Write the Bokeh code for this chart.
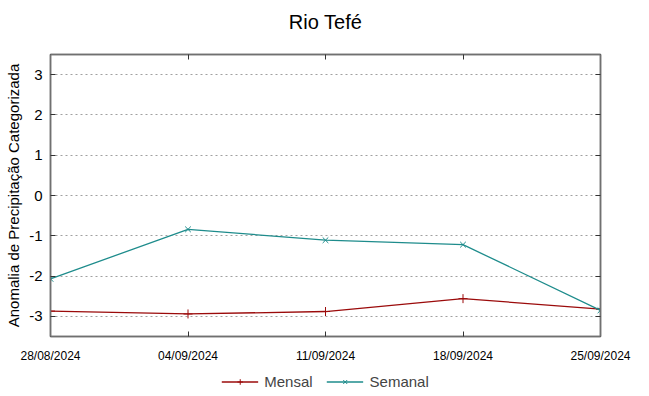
import pandas as pd
from bokeh.plotting import figure
from bokeh.layouts import column
from bokeh.models import (Range1d, FixedTicker, LinearAxis, DatetimeAxis, Legend, LegendItem,
                          DatetimeTickFormatter)
from bokeh.embed import file_html
from bokeh.resources import INLINE

dates = ["28/08/2024", "04/09/2024", "11/09/2024", "18/09/2024", "25/09/2024"]
mensal = [-2.87, -2.94, -2.88, -2.56, -2.82]
semanal = [-2.07, -0.84, -1.11, -1.22, -2.85]
yticks = [-3, -2, -1, 0, 1, 2, 3]
title_text = "Rio Tefé"
series_names = ["Mensal", "Semanal"]

x = pd.to_datetime(dates, format="%d/%m/%Y")
xms = [d.timestamp() * 1000 for d in x]

FONT = "Liberation Sans"
BORDER = "#707070"
RED = "#9b0b0b"
TEAL = "#1e8c8c"
W = 649

# ---- title strip ----
f0 = figure(width=W, height=34, output_backend="svg", toolbar_location=None,
            x_axis_location=None, y_axis_location=None, min_border=0, min_border_top=32,
            x_range=Range1d(0, 1), y_range=Range1d(0, 1))
f0.outline_line_color = None
f0.grid.visible = False
f0.title.text = title_text
f0.title.align = "center"
f0.title.text_font = FONT
f0.title.text_font_size = "20px"
f0.title.text_font_style = "normal"
f0.title.text_color = "#000000"
f0.title.standoff = 0

# ---- main plot ----
p = figure(frame_width=550, frame_height=282, output_backend="svg", toolbar_location=None,
           x_axis_type="datetime", min_border_left=50, min_border_right=49,
           min_border_top=20, min_border_bottom=0)
p.x_range = Range1d(xms[0], xms[-1])
p.y_range = Range1d(-3.5, 3.5)
p.outline_line_color = BORDER
p.outline_line_width = 1.5

xa = p.xaxis[0]
xa.ticker = FixedTicker(ticks=xms)
xa.formatter = DatetimeTickFormatter(days="%d/%m/%Y", months="%d/%m/%Y", years="%d/%m/%Y")
ya = p.yaxis[0]
ya.ticker = FixedTicker(ticks=yticks)
ya.major_label_overrides = {t: str(t) for t in yticks}
ya.axis_label = "Anomalia de Precipitação Categorizada"

for ax in (xa, ya):
    ax.axis_line_color = BORDER
    ax.axis_line_width = 1.5
    ax.major_tick_in = 5
    ax.major_tick_out = 0
    ax.minor_tick_line_color = None
    ax.major_tick_line_color = "#333333"
    ax.major_label_text_font = FONT
    ax.major_label_text_color = "#000000"
    ax.axis_label_text_font = FONT
    ax.axis_label_text_font_style = "normal"
    ax.axis_label_text_font_size = "15px"
    ax.axis_label_text_color = "#000000"
xa.major_label_text_font_size = "12px"
xa.major_label_standoff = 12
ya.major_label_text_font_size = "15px"
ya.major_label_standoff = 8
ya.axis_label_standoff = 4

ra = LinearAxis(ticker=FixedTicker(ticks=yticks), major_label_overrides={t: "" for t in yticks})
ta = DatetimeAxis(ticker=FixedTicker(ticks=xms), major_label_overrides={t: "" for t in xms})
for ax in (ra, ta):
    ax.axis_line_color = BORDER
    ax.axis_line_width = 1.5
    ax.major_tick_in = 5
    ax.major_tick_out = 0
    ax.minor_tick_line_color = None
    ax.major_tick_line_color = "#333333"
    ax.major_label_standoff = 0
p.add_layout(ra, "right")
p.add_layout(ta, "above")

p.xgrid.visible = False
p.ygrid.ticker = FixedTicker(ticks=yticks)
p.ygrid.grid_line_color = "#a0a0a0"
p.ygrid.grid_line_dash = "2 3"
p.ygrid.grid_line_width = 1

p.line(xms, mensal, line_color=RED, line_width=1.3)
p.scatter(xms, mensal, marker="cross", size=9, line_color=RED, line_width=1)
p.line(xms, semanal, line_color=TEAL, line_width=1.3)
p.scatter(xms, semanal, marker="x", size=8, line_color=TEAL, line_width=1)

# ---- legend strip (legend-only renderers sit outside the visible range) ----
f2 = figure(width=W, height=32, output_backend="svg", toolbar_location=None,
            x_axis_location=None, y_axis_location=None, min_border=0,
            x_range=Range1d(0, 1), y_range=Range1d(0, 1))
f2.outline_line_color = None
f2.grid.visible = False
off = [-10, -11]
g1 = f2.line(x=off, y=off, line_color=RED, line_width=1.3)
s1 = f2.scatter(x=off, y=off, marker="cross", size=9, line_color=RED, line_width=1)
g2 = f2.line(x=off, y=off, line_color=TEAL, line_width=1.3)
s2 = f2.scatter(x=off, y=off, marker="x", size=8, line_color=TEAL, line_width=1)
legend = Legend(items=[LegendItem(label=series_names[0], renderers=[g1, s1]),
                       LegendItem(label=series_names[1], renderers=[g2, s2])],
                orientation="horizontal", location="center",
                glyph_width=37, glyph_height=14, label_height=14,
                label_text_font=FONT, label_text_font_size="15px",
                border_line_color=None, background_fill_alpha=0,
                spacing=14, label_standoff=6, padding=0, margin=0)
f2.add_layout(legend, "center")

layout = column(f0, p, f2, spacing=0)
open("out.html", "w").write(file_html(layout, INLINE))
